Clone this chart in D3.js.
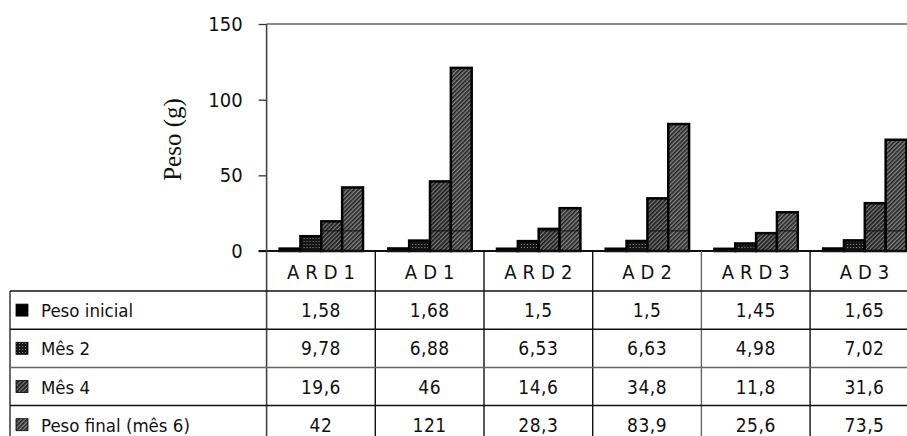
<!DOCTYPE html>
<html>
<head>
<meta charset="utf-8">
<script src="https://cdn.jsdelivr.net/npm/d3@7"></script>
<style>
    html, body { margin: 0; padding: 0; background: #fff; }
    #chart { width: 907px; height: 436px; overflow: hidden; }
    text { font-family: "DejaVu Sans Condensed", "DejaVu Sans", sans-serif; font-stretch: condensed; fill: #111; }
</style>
</head>
<body>
<div id="chart"></div>
<script>
/* ============================================= */
/* Data */
/* ============================================= */

const categories = ['ARD1', 'AD1', 'ARD2', 'AD2', 'ARD3', 'AD3'];
const seriesNames = ['Peso inicial', 'Mês 2', 'Mês 4', 'Peso final (mês 6)'];
const pesoInicial = [1.58, 1.68, 1.5, 1.5, 1.45, 1.65];
const mes2 = [9.78, 6.88, 6.53, 6.63, 4.98, 7.02];
const mes4 = [19.6, 46, 14.6, 34.8, 11.8, 31.6];
const pesoFinal = [42, 121, 28.3, 83.9, 25.6, 73.5];
const yTicks = [0, 50, 100, 150];

const seriesValues = [pesoInicial, mes2, mes4, pesoFinal];

/* ============================================= */
/* Layout */
/* ============================================= */

const width = 907, height = 436;
const plotLeft = 266.6, step = 108.7;
const plotTop = 24, plotBottom = 251;
const headerBottom = 291, rowH = 38.2;
const tableLeft = 10;

const svg = d3.select('#chart')
    .append('svg')
    .attr('width', width)
    .attr('height', height);

const defs = svg.append('defs');

// bar fills, roughly the Excel b/w hatching
const p2 = defs.append('pattern').attr('id', 'p2')
    .attr('width', 3).attr('height', 3).attr('patternUnits', 'userSpaceOnUse');
p2.append('rect').attr('width', 3).attr('height', 3).attr('fill', '#151515');
p2.append('rect').attr('x', 1).attr('y', 1).attr('width', 1).attr('height', 1).attr('fill', '#8a8a8a');

const p3 = defs.append('pattern').attr('id', 'p3')
    .attr('width', 3).attr('height', 3).attr('patternUnits', 'userSpaceOnUse')
    .attr('patternTransform', 'rotate(45)');
p3.append('rect').attr('width', 3).attr('height', 3).attr('fill', '#7a7a7a');
p3.append('rect').attr('width', 1.7).attr('height', 3).attr('fill', '#1c1c1c');

const p4 = defs.append('pattern').attr('id', 'p4')
    .attr('width', 3).attr('height', 3).attr('patternUnits', 'userSpaceOnUse')
    .attr('patternTransform', 'rotate(45)');
p4.append('rect').attr('width', 3).attr('height', 3).attr('fill', '#858585');
p4.append('rect').attr('width', 1.6).attr('height', 3).attr('fill', '#222');

const fills = ['#000', 'url(#p2)', 'url(#p3)', 'url(#p4)'];

/* ============================================= */
/* Scales */
/* ============================================= */

const x = d3.scaleBand()
    .domain(categories)
    .range([plotLeft, plotLeft + step * categories.length])
    .padding(0);

const xInner = d3.scaleBand()
    .domain(d3.range(seriesNames.length))
    .range([13, 13 + 83.4])
    .padding(0);

const y = d3.scaleLinear()
    .domain([0, 150])
    .range([plotBottom, plotTop]);

/* ============================================= */
/* Plot area */
/* ============================================= */

svg.append('line')
    .attr('x1', plotLeft).attr('x2', width)
    .attr('y1', y(150)).attr('y2', y(150))
    .style('stroke', '#8a8a8a').style('stroke-width', 2);

const yAxis = svg.append('g')
    .attr('transform', `translate(${plotLeft},0)`)
    .call(d3.axisLeft(y).tickValues(yTicks).tickSize(8).tickPadding(16));
yAxis.select('.domain').remove();
yAxis.selectAll('.tick line').style('stroke', '#333').style('stroke-width', 1.3);
yAxis.selectAll('.tick text')
    .style('font-size', '20px')
    .style('font-family', '"DejaVu Sans Condensed", "DejaVu Sans", sans-serif')
    .attr('fill', '#111');

svg.append('text')
    .attr('transform', `translate(181,${(plotTop + plotBottom) / 2 + 2}) rotate(-90)`)
    .attr('text-anchor', 'middle')
    .style('font-family', '"Liberation Serif", "Times New Roman", serif')
    .style('font-stretch', 'normal')
    .style('font-size', '25px')
    .text('Peso (g)');

/* ============================================= */
/* Bars */
/* ============================================= */

const groups = svg.selectAll('.group')
    .data(categories)
    .enter().append('g')
    .attr('class', 'group')
    .attr('transform', d => `translate(${x(d)},0)`);

seriesValues.forEach((vals, s) => {
    groups.append('rect')
        .attr('x', xInner(s))
        .attr('y', (d, i) => y(vals[i]))
        .attr('width', xInner.bandwidth())
        .attr('height', (d, i) => y(0) - y(vals[i]))
        .style('fill', fills[s])
        .style('stroke', '#000')
        .style('stroke-width', 2.5);

    // faint back wall gridline showing through the taller hatched bars
    if (s >= 2) {
        groups.filter((d, i) => vals[i] > 13.3)
            .append('line')
            .attr('x1', xInner(s) + 1).attr('x2', xInner(s) + xInner.bandwidth() - 1)
            .attr('y1', y(13.3)).attr('y2', y(13.3))
            .style('stroke', '#111').style('stroke-width', 1);
    }
});

svg.append('line')
    .attr('x1', plotLeft - 8).attr('x2', width)
    .attr('y1', y(0)).attr('y2', y(0))
    .style('stroke', '#111').style('stroke-width', 2);

/* ============================================= */
/* Data table */
/* ============================================= */

const table = svg.append('g');
const nRows = seriesNames.length;

// vertical lines
table.append('line')
    .attr('x1', plotLeft).attr('x2', plotLeft)
    .attr('y1', plotTop).attr('y2', height)
    .style('stroke', '#444').style('stroke-width', 1.6);

table.selectAll('.vdiv')
    .data(categories.slice(1))
    .enter().append('line')
    .attr('x1', d => x(d)).attr('x2', d => x(d))
    .attr('y1', plotBottom).attr('y2', height)
    .style('stroke', (d, i) => i === 3 ? '#666' : '#111')
    .style('stroke-width', 1.4);

table.append('line')
    .attr('x1', tableLeft).attr('x2', tableLeft)
    .attr('y1', headerBottom).attr('y2', height)
    .style('stroke', '#444').style('stroke-width', 1.6);

// horizontal lines
table.selectAll('.hdiv')
    .data(d3.range(nRows))
    .enter().append('line')
    .attr('x1', tableLeft).attr('x2', width)
    .attr('y1', d => headerBottom + d * rowH).attr('y2', d => headerBottom + d * rowH)
    .style('stroke', d => d === 2 ? '#666' : '#111')
    .style('stroke-width', 1.5);

// header labels
table.selectAll('.head')
    .data(categories)
    .enter().append('text')
    .attr('x', d => x(d) + x.bandwidth() / 2 + 3)
    .attr('y', (plotBottom + headerBottom) / 2 + 8)
    .attr('text-anchor', 'middle')
    .style('font-size', '20px')
    .style('letter-spacing', '6px')
    .text(d => d);

// row labels with legend keys
seriesNames.forEach((name, s) => {
    const cy = headerBottom + s * rowH + rowH / 2;
    table.append('rect')
        .attr('x', 16).attr('y', cy - 6)
        .attr('width', 12).attr('height', 12)
        .style('fill', fills[s])
        .style('stroke', '#000').style('stroke-width', 0.8);
    table.append('text')
        .attr('x', 41).attr('y', cy + 7)
        .style('font-size', '18.5px')
        .text(name);

    table.selectAll(null)
        .data(seriesValues[s])
        .enter().append('text')
        .attr('x', (d, i) => x(categories[i]) + x.bandwidth() / 2)
        .attr('y', cy + 7)
        .attr('text-anchor', 'middle')
        .style('font-size', '19px')
        .style('letter-spacing', '0.5px')
        .text(d => String(d).replace('.', ','));
});
</script>
</body>
</html>
